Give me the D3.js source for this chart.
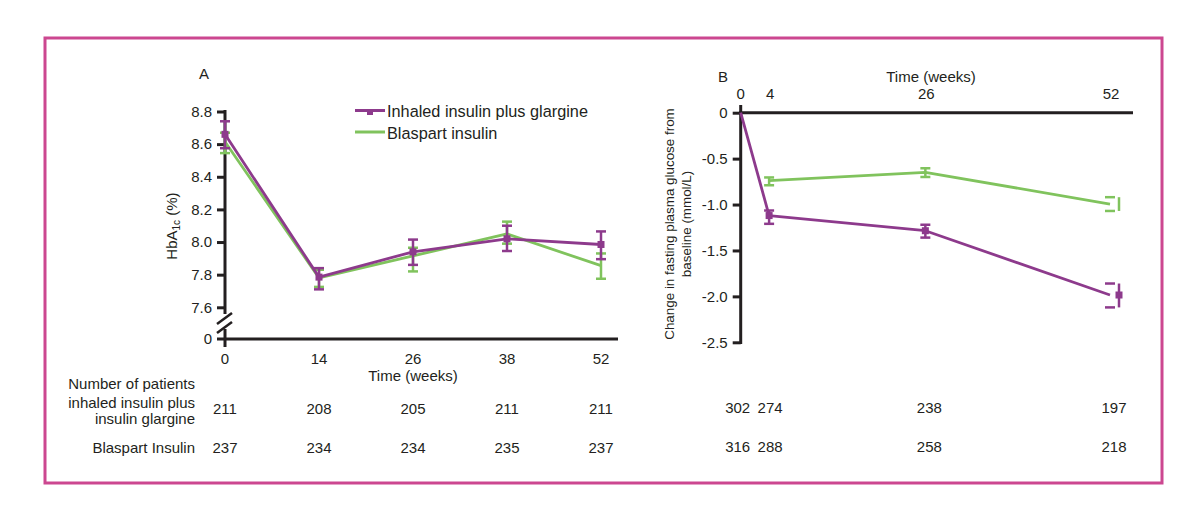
<!DOCTYPE html>
<html>
<head>
<meta charset="utf-8">
<script src="https://cdn.jsdelivr.net/npm/d3@7"></script>
<style>
  html, body { margin: 0; padding: 0; background: #ffffff; }
  svg { display: block; }
  text { font-family: "Liberation Sans", Arial, sans-serif; fill: #231f20; }
</style>
</head>
<body>
<svg id="chart" width="1200" height="528"></svg>
<script>
// ---------------- DATA ----------------
// Panel A: HbA1c (%)
const weeksA = [0, 14, 26, 38, 52];
const inhaledA    = [8.66, 7.785, 7.94, 8.02, 7.985];
const inhaledA_lo = [8.575, 7.71, 7.86, 7.945, 7.895];
const inhaledA_hi = [8.74, 7.84, 8.015, 8.10, 8.065];
const blaspartA    = [8.615, 7.78, 7.915, 8.05, 7.855];
const blaspartA_lo = [8.545, 7.725, 7.82, 7.99, 7.775];
const blaspartA_hi = [8.67, 7.83, 7.965, 8.125, 7.93];
const yTicksA = [8.8, 8.6, 8.4, 8.2, 8.0, 7.8, 7.6];
const yTickLabelsA = ["8.8", "8.6", "8.4", "8.2", "8.0", "7.8", "7.6"];

// Panel B: change in fasting plasma glucose (mmol/L)
const weeksB_inhaled = [0, 4, 26, 52];
const inhaledB    = [0, -1.12, -1.285, -1.985];
const inhaledB_lo = [null, -1.21, -1.36, -2.12];
const inhaledB_hi = [null, -1.065, -1.22, -1.86];
const weeksB_blaspart = [4, 26, 52];
const blaspartB    = [-0.74, -0.65, -0.995];
const blaspartB_lo = [-0.79, -0.70, -1.07];
const blaspartB_hi = [-0.705, -0.605, -0.92];
const xTicksB = [0, 4, 26, 52];
const yTicksB = [0, -0.5, -1.0, -1.5, -2.0, -2.5];
const yTickLabelsB = ["0", "-0.5", "-1.0", "-1.5", "-2.0", "-2.5"];

// Number of patients
const nA_inhaled  = [211, 208, 205, 211, 211];
const nA_blaspart = [237, 234, 234, 235, 237];
const nB_weeks    = [0, 4, 26, 52];
const nB_inhaled  = [302, 274, 238, 197];
const nB_blaspart = [316, 288, 258, 218];

const seriesNames = ["Inhaled insulin plus glargine", "Blaspart insulin"];

// ---------------- STYLE ----------------
const PURPLE = "#8d3a8c";
const GREEN = "#80c35d";
const AXIS = "#231f20";
const BORDER = "#cc4790";

const svg = d3.select("#chart");

// Border frame
svg.append("rect")
  .attr("x", 45).attr("y", 38)
  .attr("width", 1117).attr("height", 445)
  .attr("fill", "none").attr("stroke", BORDER).attr("stroke-width", 3);

// ---------------- PANEL A ----------------
const xA = d3.scalePoint().domain(weeksA).range([225, 601]).padding(0);
const yA = d3.scaleLinear().domain([7.6, 8.8]).range([307.3, 111.5]);
const yZeroA = 339;

const gA = svg.append("g");

// y axis (broken)
const yAxisA = d3.axisLeft(yA).tickValues(yTicksA)
  .tickFormat((d, i) => yTickLabelsA[i]).tickSize(8).tickPadding(5);
const gyA = gA.append("g").attr("transform", `translate(225,0)`).call(yAxisA);
gyA.select(".domain").remove();
gyA.selectAll(".tick line").attr("stroke", AXIS).attr("stroke-width", 3);
gyA.selectAll(".tick text").style("font-size", "15px").attr("fill", AXIS)
  .style("font-family", '"Liberation Sans", Arial, sans-serif');

// axis segments
gA.append("line").attr("x1", 225).attr("x2", 225).attr("y1", 110).attr("y2", 314)
  .attr("stroke", AXIS).attr("stroke-width", 3);
gA.append("line").attr("x1", 225).attr("x2", 225).attr("y1", 329).attr("y2", 347)
  .attr("stroke", AXIS).attr("stroke-width", 3);
// break slashes
gA.append("line").attr("x1", 217).attr("y1", 324).attr("x2", 232).attr("y2", 313)
  .attr("stroke", AXIS).attr("stroke-width", 2.5);
gA.append("line").attr("x1", 217).attr("y1", 333).attr("x2", 232).attr("y2", 322)
  .attr("stroke", AXIS).attr("stroke-width", 2.5);
// zero tick + x axis
gA.append("line").attr("x1", 217).attr("x2", 618).attr("y1", yZeroA).attr("y2", yZeroA)
  .attr("stroke", AXIS).attr("stroke-width", 3);
gA.append("text").attr("x", 212).attr("y", yZeroA).attr("dy", "0.36em")
  .attr("text-anchor", "end").style("font-size", "15px").text("0");

// x tick labels
gA.selectAll(".xlabA").data(weeksA).enter().append("text")
  .attr("x", d => xA(d)).attr("y", 359).attr("dy", "0.36em")
  .attr("text-anchor", "middle").style("font-size", "15px").text(d => d);
gA.append("text").attr("x", 413).attr("y", 375.5).attr("dy", "0.36em")
  .attr("text-anchor", "middle").style("font-size", "15px").text("Time (weeks)");

// y label
const yl = gA.append("text")
  .attr("transform", "translate(177,226) rotate(-90)")
  .attr("text-anchor", "middle").style("font-size", "15px");
yl.append("tspan").text("HbA");
yl.append("tspan").attr("dy", 3).style("font-size", "10px").text("1c");
yl.append("tspan").attr("dy", -3).text(" (%)");

// Panel label
gA.append("text").attr("x", 204).attr("y", 74).attr("dy", "0.36em")
  .attr("text-anchor", "middle").style("font-size", "15px").text("A");

function drawSeriesA(vals, lo, hi, color, markers) {
  const pts = weeksA.map((w, i) => ({ x: xA(w), y: yA(vals[i]), lo: yA(lo[i]), hi: yA(hi[i]) }));
  const line = d3.line().x(d => d.x).y(d => d.y);
  gA.append("path").attr("d", line(pts)).attr("fill", "none")
    .attr("stroke", color).attr("stroke-width", 2.8).attr("stroke-linejoin", "round");
  const eb = gA.append("g");
  pts.forEach(p => {
    eb.append("line").attr("x1", p.x).attr("x2", p.x).attr("y1", p.lo).attr("y2", p.hi)
      .attr("stroke", color).attr("stroke-width", 2.5);
    [p.lo, p.hi].forEach(yy => eb.append("line")
      .attr("x1", p.x - 5).attr("x2", p.x + 5).attr("y1", yy).attr("y2", yy)
      .attr("stroke", color).attr("stroke-width", 2.5));
    if (markers) eb.append("rect").attr("x", p.x - 3.5).attr("y", p.y - 3.5)
      .attr("width", 7).attr("height", 7).attr("fill", color);
  });
}
drawSeriesA(blaspartA, blaspartA_lo, blaspartA_hi, GREEN, false);
drawSeriesA(inhaledA, inhaledA_lo, inhaledA_hi, PURPLE, true);

// Legend
const leg = gA.append("g");
leg.append("line").attr("x1", 355).attr("x2", 385).attr("y1", 110.5).attr("y2", 110.5)
  .attr("stroke", PURPLE).attr("stroke-width", 3);
leg.append("rect").attr("x", 367).attr("y", 110).attr("width", 6).attr("height", 5).attr("fill", PURPLE);
leg.append("text").attr("x", 387).attr("y", 111).attr("dy", "0.36em")
  .style("font-size", "16.3px").text(seriesNames[0]);
leg.append("line").attr("x1", 355).attr("x2", 385).attr("y1", 132).attr("y2", 132)
  .attr("stroke", GREEN).attr("stroke-width", 3);
leg.append("text").attr("x", 387).attr("y", 133).attr("dy", "0.36em")
  .style("font-size", "16.3px").text(seriesNames[1]);

// ---------------- PANEL B ----------------
const xB = d3.scaleLinear().domain([0, 52]).range([740.7, 1110]);
const yB = d3.scaleLinear().domain([0, -2.5]).range([112.7, 342.3]);
const gB = svg.append("g");

const yAxisB = d3.axisLeft(yB).tickValues(yTicksB)
  .tickFormat((d, i) => yTickLabelsB[i]).tickSize(8).tickPadding(5);
const gyB = gB.append("g").attr("transform", `translate(740.7,0)`).call(yAxisB);
gyB.select(".domain").remove();
gyB.selectAll(".tick line").attr("stroke", AXIS).attr("stroke-width", 3);
gyB.selectAll(".tick text").style("font-size", "15px").attr("fill", AXIS)
  .style("font-family", '"Liberation Sans", Arial, sans-serif');
gB.append("line").attr("x1", 740.7).attr("x2", 740.7).attr("y1", 105).attr("y2", 344)
  .attr("stroke", AXIS).attr("stroke-width", 3);
gB.append("line").attr("x1", 739).attr("x2", 1133).attr("y1", yB(0)).attr("y2", yB(0))
  .attr("stroke", AXIS).attr("stroke-width", 3);

// top x tick labels
gB.selectAll(".xlabB").data(xTicksB).enter().append("text")
  .attr("x", d => xB(d) + (d === 0 ? 0 : 1)).attr("y", 94).attr("dy", "0.36em")
  .attr("text-anchor", "middle").style("font-size", "15px").text(d => d);
gB.append("text").attr("x", 931).attr("y", 76.5).attr("dy", "0.36em")
  .attr("text-anchor", "middle").style("font-size", "15px").text("Time (weeks)");
gB.append("text").attr("x", 723).attr("y", 76.5).attr("dy", "0.36em")
  .attr("text-anchor", "middle").style("font-size", "15px").text("B");

// y label (two lines)
const ylB = gB.append("text").attr("transform", "translate(669,224) rotate(-90)")
  .attr("text-anchor", "middle").style("font-size", "13.4px");
ylB.append("tspan").attr("x", 0).attr("dy", "0.36em").text("Change in fasting plasma glucose from");
ylB.append("tspan").attr("x", 0).attr("dy", "1.25em").text("baseline (mmol/L)");

function drawSeriesB(weeks, vals, lo, hi, color, markers) {
  const pts = weeks.map((w, i) => ({
    x: xB(w), y: yB(vals[i]),
    lo: lo[i] == null ? null : yB(lo[i]),
    hi: hi[i] == null ? null : yB(hi[i]),
    last: i === weeks.length - 1
  }));
  const line = d3.line().x(d => d.x).y(d => d.y);
  gB.append("path").attr("d", line(pts)).attr("fill", "none")
    .attr("stroke", color).attr("stroke-width", 2.8).attr("stroke-linejoin", "round");
  const eb = gB.append("g");
  pts.forEach(p => {
    if (p.lo == null) return;
    const vx = p.last ? p.x + 9 : p.x;
    eb.append("line").attr("x1", vx).attr("x2", vx).attr("y1", p.lo).attr("y2", p.hi)
      .attr("stroke", color).attr("stroke-width", 2.5);
    [p.lo, p.hi].forEach(yy => eb.append("line")
      .attr("x1", p.x - 5).attr("x2", p.x + 5).attr("y1", yy).attr("y2", yy)
      .attr("stroke", color).attr("stroke-width", 2.5));
    if (markers) eb.append("rect").attr("x", vx - 3.5).attr("y", p.y - 3.5)
      .attr("width", 7).attr("height", 7).attr("fill", color);
  });
}
drawSeriesB(weeksB_blaspart, blaspartB, blaspartB_lo, blaspartB_hi, GREEN, false);
drawSeriesB(weeksB_inhaled, inhaledB, inhaledB_lo, inhaledB_hi, PURPLE, true);

// ---------------- PATIENT TABLE ----------------
const gT = svg.append("g").style("font-size", "15px");
gT.append("text").attr("x", 195).attr("y", 384).attr("dy", "0.36em")
  .attr("text-anchor", "end").text("Number of patients");
gT.append("text").attr("x", 195).attr("y", 402.5).attr("dy", "0.36em")
  .attr("text-anchor", "end").text("inhaled insulin plus");
gT.append("text").attr("x", 195).attr("y", 418.5).attr("dy", "0.36em")
  .attr("text-anchor", "end").text("insulin glargine");
gT.append("text").attr("x", 195).attr("y", 448).attr("dy", "0.36em")
  .attr("text-anchor", "end").text("Blaspart Insulin");

gT.selectAll(".nAi").data(nA_inhaled).enter().append("text")
  .attr("x", (d, i) => xA(weeksA[i])).attr("y", 409).attr("dy", "0.36em")
  .attr("text-anchor", "middle").text(d => d);
gT.selectAll(".nAb").data(nA_blaspart).enter().append("text")
  .attr("x", (d, i) => xA(weeksA[i])).attr("y", 448).attr("dy", "0.36em")
  .attr("text-anchor", "middle").text(d => d);
gT.selectAll(".nBi").data(nB_inhaled).enter().append("text")
  .attr("x", (d, i) => xB(nB_weeks[i]) + (i === 0 ? -3 : i === 1 ? 1 : 4))
  .attr("y", 408).attr("dy", "0.36em")
  .attr("text-anchor", "middle").text(d => d);
gT.selectAll(".nBb").data(nB_blaspart).enter().append("text")
  .attr("x", (d, i) => xB(nB_weeks[i]) + (i === 0 ? -3 : i === 1 ? 1 : 4))
  .attr("y", 447).attr("dy", "0.36em")
  .attr("text-anchor", "middle").text(d => d);
</script>
</body>
</html>
